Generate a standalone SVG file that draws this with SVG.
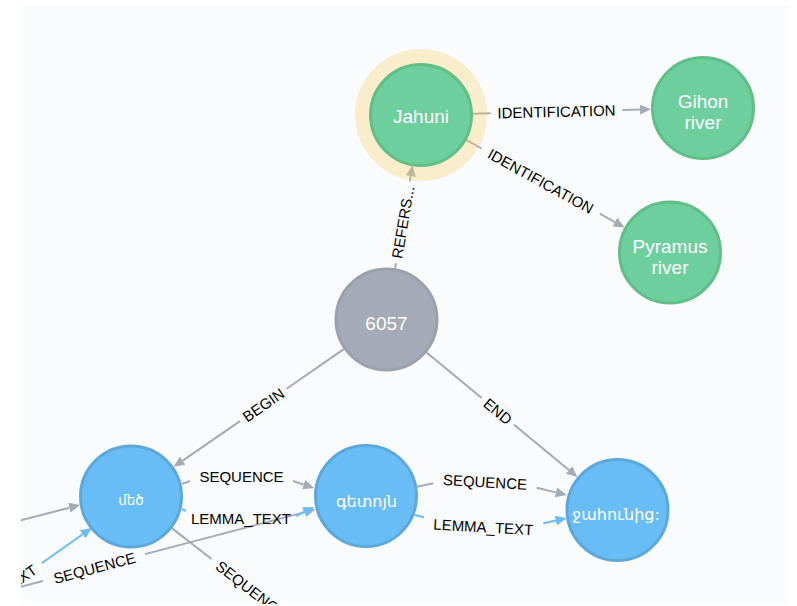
<svg xmlns="http://www.w3.org/2000/svg" width="797" height="606" viewBox="0 0 797 606">
  <defs>
    <clipPath id="panel-clip">
      <rect x="21" y="6" width="768" height="598"/>
    </clipPath>
    <marker id="arrow-gray" markerUnits="userSpaceOnUse" markerWidth="12" markerHeight="10" refX="0" refY="5" orient="auto">
      <path d="M0,0 L11,5 L0,10 z" fill="#a5abb6"/>
    </marker>
    <marker id="arrow-blue" markerUnits="userSpaceOnUse" markerWidth="12" markerHeight="10" refX="0" refY="5" orient="auto">
      <path d="M0,0 L11,5 L0,10 z" fill="#68bdf6"/>
    </marker>
    <style>
      .rel { stroke: #a5abb6; stroke-width: 2; fill: none; }
      .rel.lemma { stroke: #68bdf6; }
      .rel.head { marker-end: url(#arrow-gray); }
      .rel.lemma.head { marker-end: url(#arrow-blue); }
      .rel-label { font-family: "Liberation Sans", Arial, sans-serif; font-size: 15px; fill: #000; text-anchor: middle; }
      .node-label { font-family: "Liberation Sans", Arial, sans-serif; font-size: 19px; fill: #fff; text-anchor: middle; }
      .word-label { font-family: "DejaVu Sans", "Noto Sans", sans-serif; font-size: 16px; fill: #fff; text-anchor: middle; }
      .word-label.short { font-size: 13.5px; }
      .place circle.body { fill: #6dce9e; stroke: #60be86; stroke-width: 3; }
      .reading circle.body { fill: #a5abb6; stroke: #9aa1ac; stroke-width: 3; }
      .word circle.body { fill: #68bdf6; stroke: #5ca8db; stroke-width: 3; }
      .halo { fill: #fdcc59; opacity: 0.3; }
    </style>
  </defs>

  <rect x="0" y="0" width="797" height="606" fill="#ffffff"/>
  <rect x="21" y="6" width="768" height="598" fill="#f9fbfd"/>

  <g clip-path="url(#panel-clip)">
    <!-- relationships -->
    <g id="connectors">
      <!-- Jahuni -> Gihon river -->
      <line class="rel" x1="473" y1="113.7" x2="490.5" y2="113.3"/>
      <line class="rel head" x1="622.5" y1="110" x2="640" y2="109.6"/>
      <text class="rel-label" transform="translate(556.5 111.6) rotate(-1.42)" dy="0.36em">IDENTIFICATION</text>

      <!-- Jahuni -> Pyramus river -->
      <line class="rel" x1="466.5" y1="140.1" x2="481.6" y2="148.5"/>
      <line class="rel head" x1="599.8" y1="213.7" x2="614.9" y2="222.1"/>
      <text class="rel-label" transform="translate(540.7 181.1) rotate(28.9)" dy="0.36em">IDENTIFICATION</text>

      <!-- 6057 -> Jahuni -->
      <line class="rel" x1="395.1" y1="268.2" x2="396" y2="263.1"/>
      <line class="rel head" x1="409.8" y1="181.3" x2="410.7" y2="176.1"/>
      <text class="rel-label" transform="translate(402.9 222.2) rotate(-80.4)" dy="0.36em">REFERS...</text>

      <!-- 6057 -> մեծ -->
      <line class="rel" x1="343.8" y1="349.1" x2="286.6" y2="388.7"/>
      <line class="rel head" x1="240" y1="421.1" x2="182.7" y2="460.6"/>
      <text class="rel-label" transform="translate(263.3 404.9) rotate(-34.7)" dy="0.36em">BEGIN</text>

      <!-- 6057 -> ջահունից -->
      <line class="rel" x1="426.6" y1="352.6" x2="481.7" y2="398.1"/>
      <line class="rel head" x1="513.8" y1="424.5" x2="568.9" y2="469.9"/>
      <text class="rel-label" transform="translate(497.8 411.3) rotate(39.5)" dy="0.36em">END</text>

      <!-- incoming sequence from the left into մեծ -->
      <line class="rel head" x1="0" y1="525.6" x2="69.4" y2="507.7"/>

      <!-- incoming lemma text into մեծ -->
      <line class="rel lemma head" x1="41.7" y1="563.3" x2="82.7" y2="534.3"/>
      <text class="rel-label" transform="translate(-5.7 596.8) rotate(-35.2)" dy="0.36em">LEMMA_TEXT</text>

      <!-- long sequence from the lower left into գետոյն -->
      <line class="rel" x1="0" y1="592.3" x2="43" y2="581"/>
      <line class="rel head" x1="145" y1="554.1" x2="304.9" y2="512.1"/>
      <text class="rel-label" transform="translate(94.5 568) rotate(-14.8)" dy="0.36em">SEQUENCE</text>

      <!-- մեծ -> գետոյն (upper arc) -->
      <line class="rel" x1="182" y1="484" x2="190" y2="481"/>
      <line class="rel head" x1="293" y1="481" x2="303.6" y2="484.5"/>
      <text class="rel-label" transform="translate(241.5 476.5)" dy="0.36em">SEQUENCE</text>

      <!-- մեծ -> գետոյն (lower arc) -->
      <line class="rel lemma" x1="182" y1="509" x2="186" y2="511"/>
      <line class="rel lemma head" x1="296" y1="516" x2="304.2" y2="511.9"/>
      <text class="rel-label" transform="translate(241 519)" dy="0.36em">LEMMA_TEXT</text>

      <!-- մեծ -> next reading, leaving downwards -->
      <line class="rel" x1="172.1" y1="528.4" x2="211.6" y2="559"/>
      <text class="rel-label" transform="translate(251.1 589.7) rotate(37.8)" dy="0.36em">SEQUENCE</text>

      <!-- գետոյն -> ջահունից (upper arc) -->
      <line class="rel" x1="417" y1="486.7" x2="433.3" y2="483.3"/>
      <line class="rel head" x1="536.7" y1="487.7" x2="556" y2="492.4"/>
      <text class="rel-label" transform="translate(485 482) rotate(3.2)" dy="0.36em">SEQUENCE</text>

      <!-- գետոյն -> ջահունից (lower arc) -->
      <line class="rel lemma" x1="415" y1="515" x2="424" y2="517.3"/>
      <line class="rel lemma head" x1="543.3" y1="523.3" x2="555.9" y2="520.6"/>
      <text class="rel-label" transform="translate(483.3 527) rotate(3.2)" dy="0.36em">LEMMA_TEXT</text>
    </g>

    <!-- nodes -->
    <g id="node-jahuni" class="place">
      <circle class="halo" cx="421" cy="115" r="66"/>
      <circle class="body" cx="421" cy="115" r="50.5"/>
      <text class="node-label" x="421" y="122.5">Jahuni</text>
    </g>

    <g id="node-gihon" class="place">
      <circle class="body" cx="703" cy="108" r="50.5"/>
      <text class="node-label" x="703" y="108">Gihon</text>
      <text class="node-label" x="703" y="129">river</text>
    </g>

    <g id="node-pyramus" class="place">
      <circle class="body" cx="670" cy="252.5" r="50.5"/>
      <text class="node-label" x="670" y="253">Pyramus</text>
      <text class="node-label" x="670" y="273.5">river</text>
    </g>

    <g id="node-6057" class="reading">
      <circle class="body" cx="386.5" cy="319.5" r="50.5"/>
      <text class="node-label" x="386.5" y="330">6057</text>
    </g>

    <g id="node-mets" class="word">
      <circle class="body" cx="131" cy="496.5" r="50.5"/>
      <text class="word-label short" x="131" y="505">մեծ</text>
    </g>

    <g id="node-getoyn" class="word">
      <circle class="body" cx="366" cy="496" r="50.5"/>
      <text class="word-label" x="366.5" y="507">գետոյն</text>
    </g>

    <g id="node-jahunits" class="word">
      <circle class="body" cx="617.5" cy="510" r="50.5"/>
      <text class="word-label" x="616" y="520">ջահունից:</text>
    </g>
  </g>
</svg>
